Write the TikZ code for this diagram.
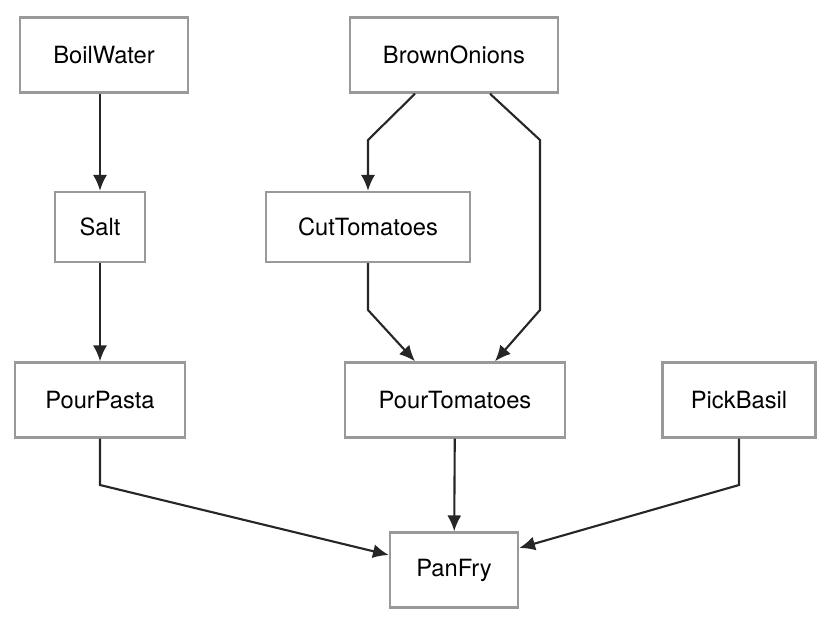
\documentclass[tikz,border=0pt]{standalone}
\usepackage{fontspec}
\setmainfont{TeX Gyre Heros}
\usetikzlibrary{arrows.meta}
\tikzset{
	task/.style={draw=black!40, line width=1.4pt, rectangle, inner sep=0pt, minimum height=75*0.02cm, fill=white, font=\fontsize{13.5}{16}\selectfont},
	flow/.style={draw=black!85, line width=1.2pt, -{Latex[length=9pt,width=8pt]}},
}
\begin{document}
\begin{tikzpicture}[x=0.02cm, y=-0.02cm]
		\useasboundingbox (0,0) rectangle (840,630);
		
		\node (boil) [task, minimum width=168*0.02cm] at (104,55) {BoilWater};
		\node (onion) [task, minimum width=208*0.02cm] at (454,55) {BrownOnions};
		\node (salt) [task, minimum width=90*0.02cm, minimum height=70*0.02cm] at (100,227) {Salt};
		\node (cut) [task, minimum width=204*0.02cm, minimum height=70*0.02cm] at (368,227) {CutTomatoes};
		\node (pasta) [task, minimum width=170*0.02cm] at (100,400) {PourPasta};
		\node (pour) [task, minimum width=220*0.02cm] at (455,400) {PourTomatoes};
		\node (basil) [task, minimum width=153*0.02cm] at (739,400) {PickBasil};
		\node (fry) [task, minimum width=128*0.02cm] at (454,570) {PanFry};
		
		\begin{scope}[flow]
			\draw (boil.south -| salt) -- (salt);
			\draw (salt) -- (pasta.north -| salt);
			\draw (onion.south -| 415,0) -- (368,140) -- (cut);
			\draw (onion.south -| 490,0) -- (540,140) -- (540,310) -- (pour.north -| 495,0);
			\draw (cut) -- (368,310) -- (pour.north -| 415,0);
			\draw (pour) -- (fry);
			\draw (pasta) -- (100,485) -- (fry.west |- 0,555);
			\draw (basil) -- (739,485) -- (fry.east |- 0,548);
		\end{scope}
		
	\end{tikzpicture}
\end{document}
